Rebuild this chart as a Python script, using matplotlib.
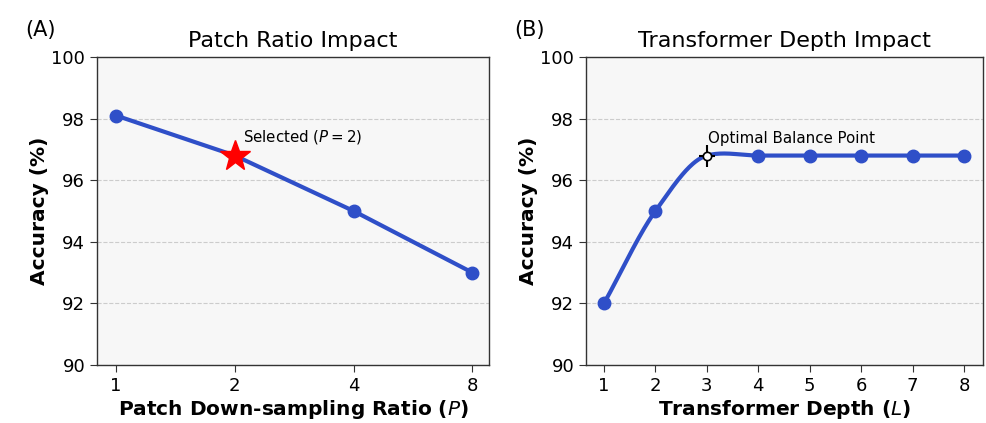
import numpy as np
import matplotlib
matplotlib.use("Agg")
import matplotlib.pyplot as plt

# ---- data ----
patch_labels = ["1", "2", "4", "8"]
patch_acc = [98.1, 96.8, 95.0, 93.0]
selected_idx = 1

depth_vals = [1, 2, 3, 4, 5, 6, 7, 8]
depth_acc = [92.0, 95.0, 96.8, 96.8, 96.8, 96.8, 96.8, 96.8]
optimal_idx = 2

yticks = [90, 92, 94, 96, 98, 100]

blue = "#2f4fc8"
axbg = "#f7f7f7"

plt.rcParams['font.family'] = ['DejaVu Sans']
plt.rcParams['mathtext.fontset'] = 'dejavusans'

fig = plt.figure(figsize=(9.86, 4.23), dpi=100)
W, H = 986, 423
def box(l, r, t, b):
    return [l / W, 1 - b / H, (r - l) / W, (b - t) / H]

ax1 = fig.add_axes(box(97, 489, 57, 365))
ax2 = fig.add_axes(box(586, 983, 57, 365))


def smooth_curve(x, y, n=60):
    """Hermite curve with tangents blended between Catmull-Rom and PCHIP."""
    x = np.asarray(x, float); y = np.asarray(y, float)
    k = len(x)
    d = np.diff(y) / np.diff(x)
    m = np.zeros(k)
    m[0] = d[0]; m[-1] = d[-1]
    for i in range(1, k - 1):
        cr = (y[i + 1] - y[i - 1]) / (x[i + 1] - x[i - 1])
        pc = 0.0 if d[i - 1] * d[i] <= 0 else 2.0 / (1.0 / d[i - 1] + 1.0 / d[i])
        m[i] = 0.5 * (cr + pc)
    xs_all, ys_all = [], []
    for i in range(k - 1):
        h = x[i + 1] - x[i]
        t = np.linspace(0, 1, n)
        h00 = 2 * t**3 - 3 * t**2 + 1
        h10 = t**3 - 2 * t**2 + t
        h01 = -2 * t**3 + 3 * t**2
        h11 = t**3 - t**2
        xs_all.append(x[i] + t * h)
        ys_all.append(h00 * y[i] + h10 * h * m[i] + h01 * y[i + 1] + h11 * h * m[i + 1])
    return np.concatenate(xs_all), np.concatenate(ys_all)

for ax in (ax1, ax2):
    ax.set_facecolor(axbg)
    ax.set_ylim(90, 100)
    ax.set_yticks(yticks)
    ax.grid(axis='y', linestyle='--', color='#cccccc', linewidth=0.8)
    ax.set_axisbelow(True)
    ax.tick_params(labelsize=13, length=5, color='#333333')
    for s in ax.spines.values():
        s.set_color('#333333')
        s.set_linewidth(1.0)
    ax.set_ylabel("Accuracy (%)", fontsize=14.5, fontweight='bold', labelpad=2)

# Panel A
xp = np.arange(len(patch_labels))
ax1.plot(xp, patch_acc, color=blue, lw=3, zorder=2)
mask = [i for i in range(len(xp)) if i != selected_idx]
ax1.plot(xp[mask], np.array(patch_acc)[mask], 'o', color=blue, ms=9, zorder=3)
ax1.plot(xp[selected_idx], patch_acc[selected_idx], '*', color='red', ms=23, zorder=4)
ax1.text(xp[selected_idx] + 0.07, patch_acc[selected_idx] + 0.45, "Selected ($P=2$)", fontsize=10.8)
ax1.set_xticks(xp)
ax1.set_xticklabels(patch_labels)
ax1.set_xlim(-0.16, 3.14)
ax1.set_title("Patch Ratio Impact", fontsize=16, pad=7)
ax1.set_xlabel("Patch Down-sampling Ratio ($\\mathbf{\\mathit{P}}$)", fontsize=14.5, fontweight='bold', labelpad=2)
fig.text(25 / W, 1 - 30 / H, "(A)", fontsize=15, va='center')

# Panel B
xs, ys = smooth_curve(depth_vals, depth_acc)
ax2.plot(xs, ys, color=blue, lw=3, zorder=2)
dm = [i for i in range(len(depth_vals)) if i != optimal_idx]
ax2.plot(np.array(depth_vals)[dm], np.array(depth_acc)[dm], 'o', color=blue, ms=9, zorder=3)
ax2.plot(depth_vals[optimal_idx], depth_acc[optimal_idx], '|', color='black', ms=16, mew=1.5, zorder=4)
ax2.plot(depth_vals[optimal_idx], depth_acc[optimal_idx], '_', color='black', ms=12, mew=1.5, zorder=4)
ax2.plot(depth_vals[optimal_idx], depth_acc[optimal_idx], 'o', mfc='white', mec='black', ms=6, mew=1.2, zorder=5)
ax2.text(depth_vals[optimal_idx] + 0.03, depth_acc[optimal_idx] + 0.4, "Optimal Balance Point", fontsize=10.8)
ax2.set_xticks(depth_vals)
ax2.set_xlim(0.65, 8.37)
ax2.set_title("Transformer Depth Impact", fontsize=16, pad=7)
ax2.set_xlabel("Transformer Depth ($\\mathbf{\\mathit{L}}$)", fontsize=14.5, fontweight='bold', labelpad=2)
fig.text(514 / W, 1 - 30 / H, "(B)", fontsize=15, va='center')

fig.savefig("out.png", dpi=100, facecolor='white')
